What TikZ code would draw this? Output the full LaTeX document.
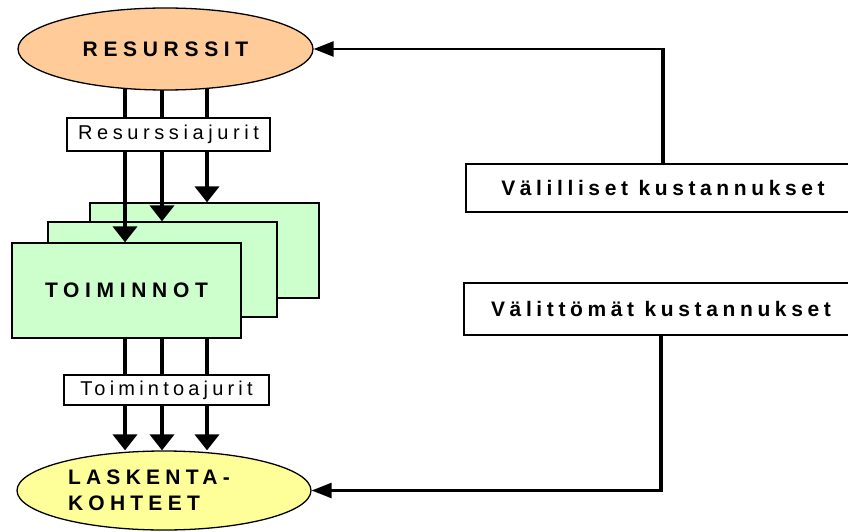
\documentclass[tikz,border=0pt]{standalone}
\usepackage{fontspec}
\setmainfont{Liberation Sans}
\usetikzlibrary{arrows.meta,shapes.geometric}
\definecolor{resorange}{HTML}{FFCC99}
\definecolor{cardgreen}{HTML}{CCFFCC}
\definecolor{objyellow}{HTML}{FFFF99}
\newcommand\spc[2]{{\addfontfeature{LetterSpace=#1}#2}}
\pgfdeclarelayer{under}
\pgfsetlayers{under,main}

\begin{document}
\begin{tikzpicture}[x=1pt,y=-1pt,
  oval/.style={ellipse, draw, line width=1.3pt, inner sep=0pt,
    font=\fontsize{21}{26}\selectfont\bfseries},
  card/.style={draw, line width=1.3pt, fill=cardgreen, minimum width=229pt,
    minimum height=95pt, inner sep=0pt, font=\fontsize{21}{26}\selectfont\bfseries},
  driver/.style={draw, line width=1.3pt, fill=white, inner sep=0pt,
    font=\fontsize{20}{24}\selectfont},
  costbox/.style={draw, line width=1.3pt, fill=white, minimum width=394pt,
    inner sep=0pt, font=\fontsize{21}{26}\selectfont\bfseries},
  shaft/.style={line width=4pt, -{Triangle[length=16pt,width=24pt]}},
  hconn/.style={line width=2.6pt, -{Triangle[length=20pt,width=15pt]}},
  vconn/.style={line width=4.2pt}]
\useasboundingbox (0,0) rectangle (848,532);
\clip (0,0) rectangle (848,532);

% x positions of the three driver arrows
\coordinate (xa) at (125,0);
\coordinate (xb) at (162,0);
\coordinate (xc) at (207,0);

% resources
\node[oval, fill=resorange, minimum width=295pt, minimum height=82pt]
  (res) at (165.5,49) {\spc{27}{RESURSSIT}};

\begin{pgfonlayer}{under}
  % stacked activity cards
  \node[card] (back) at (204.5,250.5) {};
  \node[card] (mid) at (162.5,269.5) {};
  \node[card] (front) at (126.5,290.5) {\spc{27}{TOIMINNOT}};
  % resource drivers
  \draw[shaft] (res.center -| xa) -- (front.north -| xa);
  \draw[shaft] (res.center -| xb) -- (mid.north -| xb);
  \draw[shaft] (res.center -| xc) -- (back.north -| xc);
\end{pgfonlayer}

\node[driver, minimum width=203pt, minimum height=33pt]
  (rd) at (168.5,134.5) {\spc{23}{Resurssiajurit}};

% cost objects
\node[oval, fill=objyellow, minimum width=294pt, minimum height=79pt,
  text width=192pt, align=left]
  (obj) at (164,490.5) {\spc{25}{LASKENTA-}\\\spc{25}{KOHTEET}};

% activity drivers
\draw[shaft] (front.south -| xa) -- (obj.north -| xa);
\draw[shaft] (front.south -| xb) -- (obj.north -| xb);
\draw[shaft] (front.south -| xc) -- (obj.north -| xc);

\node[driver, minimum width=205pt, minimum height=30pt]
  (ad) at (166.5,390) {\spc{21}{Toimintoajurit}};

% cost types
\node[costbox, minimum height=48pt] (ind) at (663,188)
  {\spc{22}{Välilliset kustannukset}};
\node[costbox, minimum height=52pt] (dir) at (661,309)
  {\spc{22}{Välittömät kustannukset}};

% indirect costs go to resources
\coordinate (c1) at (ind.north |- res.east);
\draw[vconn, shorten >=-1.3pt] (ind.north) -- (c1);
\draw[hconn, shorten <=-2.1pt] (c1) -- (res.east);

% direct costs go straight to cost objects
\coordinate (c2) at (dir.south |- obj.east);
\draw[vconn, shorten >=-1.3pt] (dir.south) -- (c2);
\draw[hconn, shorten <=-2.1pt] (c2) -- (obj.east);
\end{tikzpicture}
\end{document}
